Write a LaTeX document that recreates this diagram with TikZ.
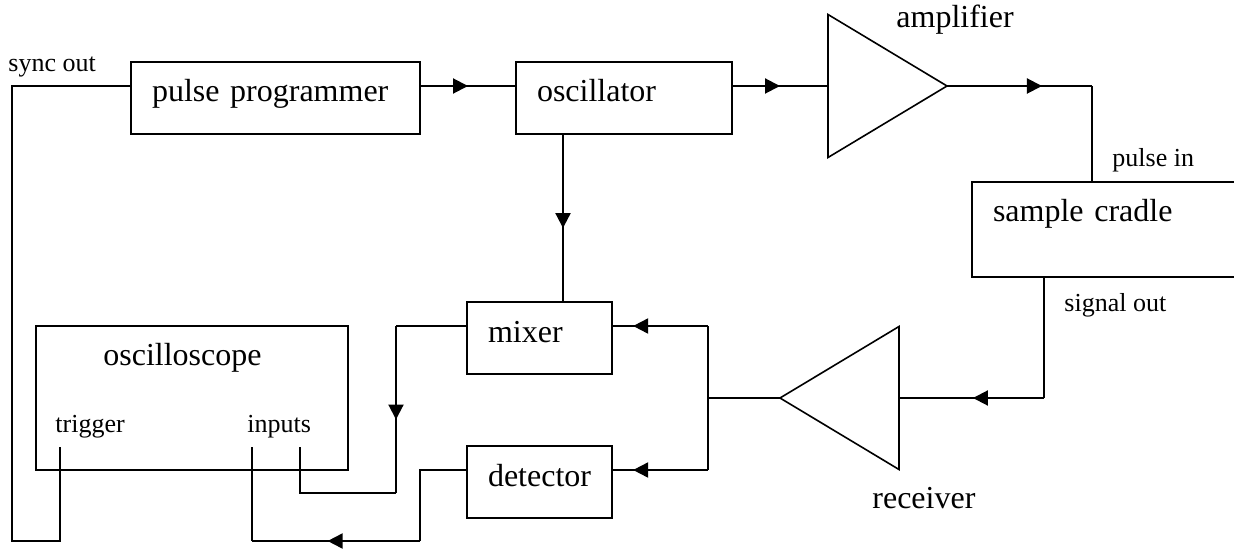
\documentclass[tikz,border=0pt]{standalone}
\usepackage{fontspec}
\setmainfont{Liberation Serif}
\usetikzlibrary{arrows.meta,calc,decorations.markings,shapes.geometric}
\tikzset{
  block/.style={draw, line width=1pt, anchor=north west, inner xsep=10.5pt, inner ysep=0pt,
    outer sep=0pt, text height=20pt, text depth=16pt, text width=#1, align=left,
    font=\fontsize{16}{19}\selectfont},
  amp/.style={draw, line width=0.8pt, isosceles triangle, isosceles triangle stretches,
    minimum width=71.5pt, minimum height=59.5pt, inner sep=0pt, outer sep=0pt},
  big/.style={anchor=base west, inner sep=0pt, font=\fontsize{16}{19}\selectfont},
  tag/.style={anchor=base west, inner sep=0pt, font=\fontsize{13}{15}\selectfont},
  wire/.style={line width=1pt},
  midarrow/.style={postaction={decorate}, decoration={markings,
    mark=at position #1 with {\arrow{Triangle[length=7.5pt,width=7.5pt]}}}}
}
\begin{document}
\begin{tikzpicture}[x=0.5pt,y=-0.5pt]
\useasboundingbox (0,0) rectangle (1234,550);
% blocks
\node[block=123.5pt] (prog) at (131,62) {pulse programmer};
\node[block=87pt] (osc) at (516,62) {oscillator};
\node[block=113pt, text depth=27.5pt] (cradle) at (972,182) {sample cradle};
\node[block=51.5pt] (mixer) at (467,302) {mixer};
\node[block=51.5pt] (det) at (467,446) {detector};
\node[draw, line width=1pt, anchor=north west, minimum width=156pt, minimum height=72pt,
  inner sep=0pt, outer sep=0pt] (scope) at (36,326) {};
\node[big] (scopename) at (103,365) {oscilloscope};
\node[tag] (trigname) at (55,432) {trigger};
\node[tag] (inname) at (247,432) {inputs};

% amplifier and receiver
\node[amp, anchor=apex] (amp) at (947,86) {};
\node[big] (ampname) at (896,28) {amplifier};
\node[amp, shape border rotate=180, anchor=apex] (rec) at (780,398) {};
\node[big] (recname) at (872,508) {receiver};

% port labels
\node[tag] (syncname) at (8,72) {sync out};
\node[tag] (pinname) at (1112,167) {pulse in};
\node[tag] (soutname) at (1064,311) {signal out};

% ports and bends
\coordinate (trig) at (60,447);
\coordinate (inA) at (252,447);
\coordinate (inB) at (300,447);
\coordinate (rail) at (12,86);
\coordinate (railend) at (12,541);
\coordinate (pin) at (1092,86);
\coordinate (sig) at (1044,398);
\coordinate (split) at (708,398);
\coordinate (mixin) at ($(mixer.north east)+(0,24)$);
\coordinate (detin) at ($(det.north east)+(0,24)$);
\coordinate (mixout) at ($(mixer.north west)+(0,24)$);
\coordinate (detout) at ($(det.north west)+(0,24)$);
\coordinate (mbend) at (396,326);
\coordinate (mlow) at (396,493);
\coordinate (dbend) at (420,470);
\coordinate (dlow) at (420,541);

% transmit side
\draw[wire] ($(prog.north west)+(0,24)$) -- (rail) -- (railend) -| (trig);
\draw[wire, midarrow=0.5] ($(prog.north east)+(0,24)$) -- ($(osc.north west)+(0,24)$);
\draw[wire, midarrow=0.5] ($(osc.north east)+(0,24)$) -- (amp.west);
\draw[wire, midarrow=0.655] (amp.apex) -- (pin);
\draw[wire] (pin) -- (pin |- cradle.north);
\draw[wire, midarrow=0.56] ($(osc.south west)+(47,0)$) -- ($(mixer.north west)+(96,0)$);

% receive side
\draw[wire] (cradle.south -| sig) -- (sig);
\draw[wire, midarrow=0.49] (sig) -- (rec.east);
\draw[wire] (rec.apex) -- (split);
\draw[wire] (mixin -| split) -- (detin -| split);
\draw[wire, midarrow=0.78] (mixin -| split) -- (mixin);
\draw[wire, midarrow=0.78] (detin -| split) -- (detin);

% to the oscilloscope
\draw[wire] (mixout) -- (mbend);
\draw[wire, midarrow=0.56] (mbend) -- (mlow);
\draw[wire] (mlow) -| (inB);
\draw[wire] (detout) -- (dbend) -- (dlow);
\draw[wire, midarrow=0.55] (dlow) -- (inA |- dlow);
\draw[wire] (inA |- dlow) -- (inA);
\end{tikzpicture}
\end{document}
